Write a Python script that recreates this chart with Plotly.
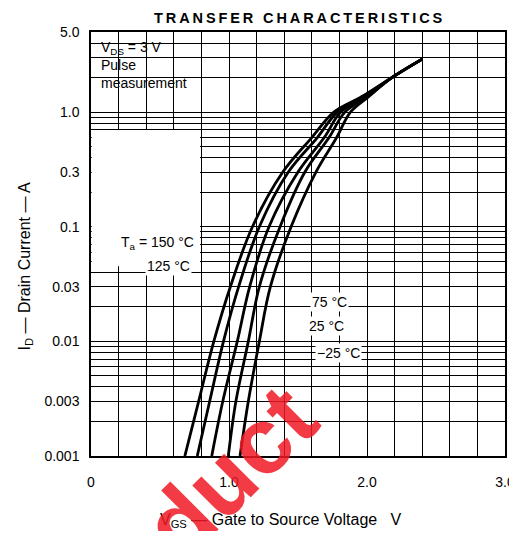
import numpy as np
import plotly.graph_objects as go

# ---- data ----
drain_current_a = [0.001, 0.003, 0.01, 0.03, 0.1, 0.3, 0.6, 1.0, 1.36, 2.0, 2.9]
vgs_150c = [0.68, 0.78, 0.89, 1.01, 1.17, 1.39, 1.60, 1.76, 1.96, 2.18, 2.40]
vgs_125c = [0.77, 0.86, 0.96, 1.07, 1.22, 1.43, 1.64, 1.785, 1.97, 2.18, 2.40]
vgs_75c = [0.875, 0.955, 1.06, 1.15, 1.29, 1.50, 1.69, 1.81, 1.985, 2.18, 2.40]
vgs_25c = [0.995, 1.05, 1.14, 1.22, 1.37, 1.55, 1.725, 1.84, 2.0, 2.18, 2.40]
vgs_m25c = [1.08, 1.14, 1.22, 1.30, 1.45, 1.63, 1.78, 1.88, 2.01, 2.18, 2.40]
series_names = ["150 °C", "125 °C", "75 °C", "25 °C", "−25 °C"]

x_tick_vals = [0, 1, 2, 3]
x_tick_text = ["0", "1.0", "2.0", "3.0"]
y_tick_vals = [0.001, 0.003, 0.01, 0.03, 0.1, 0.3, 1.0, 5.0]
y_tick_text = ["0.001", "0.003", "0.01", "0.03", "0.1", "0.3", "1.0", "5.0"]
y_grid_vals = [m * 10.0 ** e for e in range(-3, 0) for m in range(1, 10)] + [1, 2, 3, 4, 5]

FONT = "Liberation Sans, Arial, sans-serif"

fig = go.Figure()
for name, v in zip(series_names, [vgs_150c, vgs_125c, vgs_75c, vgs_25c, vgs_m25c]):
    fig.add_trace(go.Scatter(
        x=v, y=drain_current_a, mode="lines", name=name,
        line=dict(color="black", width=2.8, shape="spline", smoothing=1.0),
        showlegend=False, hoverinfo="skip"))

# page body has an 8px margin -> plot area lands at x 91..505, y 32..456 in the window
fig.update_layout(
    width=509, height=523,
    margin=dict(l=83, r=12, t=24, b=75),
    paper_bgcolor="white", plot_bgcolor="white",
    font=dict(family=FONT, size=14, color="black"),
    xaxis=dict(range=[0, 3], tickvals=x_tick_vals, ticktext=x_tick_text, automargin=False,
               showgrid=True, gridcolor="black", gridwidth=1,
               minor=dict(dtick=0.2, tick0=0, showgrid=True, gridcolor="black", gridwidth=1, ticklen=0),
               showline=True, linecolor="black", linewidth=1.5, mirror=True,
               ticks="", ticklabelstandoff=12, zeroline=False,
               tickfont=dict(size=14)),
    yaxis=dict(type="log", range=[-3, np.log10(5)], tickvals=y_tick_vals, ticktext=y_tick_text,
               automargin=False,
               showgrid=True, gridcolor="black", gridwidth=1,
               minor=dict(tickvals=y_grid_vals, showgrid=True, gridcolor="black", gridwidth=1, ticklen=0),
               showline=True, linecolor="black", linewidth=1.5, mirror=True,
               ticks="", ticklabelstandoff=7, zeroline=False,
               tickfont=dict(size=14)),
)

# white box for the test-condition note
fig.add_shape(type="rect", xref="x", yref="y", x0=0.005, x1=0.79,
              y0=np.log10(1.11), y1=np.log10(4.98),
              fillcolor="white", line=dict(width=0), layer="between")

# leader lines (log axis -> log10 coordinates)
leaders = [((0.778, -1.174), (1.587, -1.611)),
           ((0.730, -1.378), (1.563, -1.814)),
           ((1.25, -1.84), (1.563, -2.076))]
for (xa, ya), (xb, yb) in leaders:
    fig.add_shape(type="line", xref="x", yref="y", x0=xa, y0=ya, x1=xb, y1=yb,
                  line=dict(color="black", width=1))

label_pos = [("T<sub>a</sub> = 150 °C", 0.48, -1.142),
             ("125 °C", 0.56, -1.343),
             ("75 °C", 1.725, -1.657),
             ("25 °C", 1.705, -1.866),
             ("−25 °C", 1.79, -2.102)]
for txt, xx, yy in label_pos:
    fig.add_annotation(x=xx, y=yy, xref="x", yref="y", text=txt, showarrow=False,
                       font=dict(size=14, family=FONT), bgcolor="white", borderpad=1)

fig.add_annotation(xref="paper", yref="paper", x=0.02, y=0.988, xanchor="left", yanchor="top",
                   align="left", showarrow=False,
                   text="V<sub>DS</sub> = 3 V<br>Pulse<br>measurement",
                   font=dict(size=14, family=FONT))

title_text = "TRANSFER CHARACTERISTICS"
fig.add_annotation(xref="paper", yref="paper", x=0.5, y=1.0566, xanchor="center", yanchor="top",
                   showarrow=False, text="<b>" + "\u2009".join(title_text) + "</b>",
                   font=dict(size=14.5, family=FONT))

fig.add_annotation(xref="paper", yref="paper", x=0.459, y=-0.153, xanchor="center", yanchor="middle",
                   showarrow=False,
                   text="V<sub>GS</sub> — Gate to Source Voltage\u00a0\u00a0\u00a0V",
                   font=dict(size=16, family=FONT))
fig.add_annotation(xref="paper", yref="paper", x=-0.158, y=0.446, xanchor="center", yanchor="middle",
                   showarrow=False, textangle=-90,
                   text="I<sub>D</sub> — Drain Current — A",
                   font=dict(size=16, family=FONT))

# red watermark fragment
fig.add_annotation(xref="paper", yref="paper", x=0.335, y=-0.04, xanchor="center", yanchor="middle",
                   showarrow=False, textangle=-45, text="<b>duct</b>",
                   font=dict(size=94, family=FONT, color="rgba(240,25,35,0.85)"))

fig.write_html("out.html")
